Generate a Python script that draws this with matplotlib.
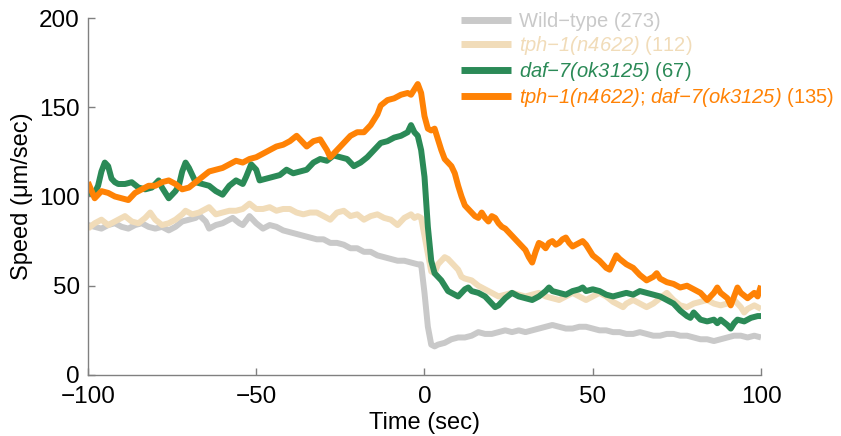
import matplotlib
matplotlib.use("Agg")
import matplotlib.pyplot as plt

plt.rcParams['font.family'] = ['Liberation Sans', 'DejaVu Sans']
plt.rcParams['mathtext.fontset'] = 'custom'
plt.rcParams['mathtext.rm'] = 'Liberation Sans:italic'
plt.rcParams['mathtext.it'] = 'Liberation Sans:italic'

# ---------------- data ----------------
t_wt = [-100, -98, -96, -94, -92, -90, -88, -86, -84, -82, -80, -78, -76, -74, -72, -70, -68, -67, -65, -64,
        -62, -60, -58, -57, -55, -54, -52, -50, -48, -46, -44, -42, -40, -38, -36, -34, -32, -30, -28, -26,
        -24, -22, -20, -18, -16, -14, -12, -10, -8, -6, -4, -2, -1, 0, 1, 2, 3, 4, 6, 8,
        10, 12, 14, 16, 18, 20, 22, 24, 26, 28, 30, 32, 34, 36, 38, 40, 42, 44, 46, 48,
        50, 52, 54, 56, 58, 60, 62, 64, 66, 68, 70, 72, 74, 76, 78, 80, 82, 84, 86, 88,
        90, 92, 94, 96, 98, 100]
v_wt = [84, 83, 82, 84, 85, 83, 82, 84, 85, 83, 82, 83, 81, 83, 86, 87, 88, 89.6, 86, 82,
        84, 85, 87, 88, 85, 84, 89, 85, 82, 84, 83, 81, 80, 79, 78, 77, 76, 76, 74, 74,
        73, 71, 71, 69, 69, 67, 66, 65, 64, 64, 63, 62, 62, 46, 27, 17, 16, 17, 18, 20,
        21, 21, 22, 24, 23, 23, 24, 25, 24, 25, 24, 25, 26, 27, 28, 27, 26, 26, 27, 27,
        26, 25, 25, 24, 24, 23, 23, 24, 23, 22, 22, 23, 23, 22, 22, 21, 20, 20, 19, 20,
        21, 22, 22, 21, 22, 21]

t_tph = [-100, -98, -96, -94, -92, -90, -89, -87, -85, -83, -81.5, -80, -78, -76, -74, -72, -71, -69, -67, -65,
         -64, -62, -60, -58, -56, -54, -52, -50, -48, -46, -44, -42, -40, -38, -36, -34, -32, -30, -28, -26,
         -24, -22, -20, -18, -16, -14, -12, -10, -8, -6, -4, -3, -2, -1, 0, 1, 2, 3, 4, 5,
         6, 7, 8, 10, 11, 12, 14, 16, 18, 20, 22, 24, 26, 28, 30, 32, 34, 36, 38, 40,
         42, 44, 46, 48, 50, 52, 54, 56, 58, 59, 60, 62, 64, 66, 68, 70, 72, 74, 76, 78,
         80, 82, 84, 86, 88, 90, 92, 94, 95, 96, 98, 100]
v_tph = [82, 85, 87, 84, 86, 88, 89, 86, 85, 88, 91, 87, 84, 85, 87, 90, 92, 90, 91, 93,
         94, 90, 91, 92, 92, 93, 96, 93, 93, 94, 92, 93, 93, 91, 90, 91, 91, 89, 87, 91,
         92, 89, 90, 87, 89, 90, 88, 87, 84, 88, 90, 88, 89, 88, 78, 68, 58, 57, 62, 64,
         66, 65, 63, 59, 55, 54, 53, 50, 48, 46, 44, 45, 46, 45, 44, 45, 46, 44, 43, 42,
         44, 46, 44, 42, 44, 46, 44, 41, 39, 38, 40, 42, 40, 38, 40, 43, 46, 42, 39, 38,
         40, 41, 42, 40, 39, 40, 42, 38, 35, 37, 39, 37]

t_daf = [-100, -98, -97, -96, -95, -94, -93, -92, -91, -89, -87, -85, -83, -81, -79, -78, -76, -74, -73, -72,
         -71, -70, -68, -66, -64, -62, -60, -58, -56, -54, -53, -51.5, -50, -49, -47, -45, -43, -41, -39, -37,
         -35, -33, -31, -29, -27, -25, -23, -21, -19, -17, -15, -13, -11, -9, -7, -5, -4, -3, -2, -1,
         0, 1, 2, 3, 4, 5, 6, 7, 8, 9, 10, 11, 12, 13, 14, 16, 18, 20, 21, 22,
         24, 26, 28, 30, 32, 34, 36, 37, 38, 40, 42, 44, 46, 47, 48, 50, 52, 54, 56, 58,
         60, 62, 64, 66, 68, 70, 72, 74, 76, 78, 79, 80, 82, 84, 86, 87, 88, 90, 91, 92,
         93, 95, 97, 99, 100]
v_daf = [102, 102, 106, 114, 119, 117, 110, 108, 107, 107, 108, 105, 104, 105, 109, 105, 99, 103, 106, 114,
         119, 116, 108, 107, 106, 103, 101, 106, 109, 107, 111, 118, 115, 109, 110, 111, 112, 115, 113, 114,
         115, 119, 121, 120, 123, 122, 121, 117, 119, 122, 126, 130, 131, 133, 134, 136, 140, 136, 134, 126,
         111, 83, 64, 57, 55, 53, 50, 47, 46, 45, 44, 46, 48, 49, 47, 46, 44, 40, 38, 39,
         43, 46, 44, 43, 42, 44, 47, 49, 47, 46, 45, 47, 48, 49, 47, 48, 47, 45, 44, 45,
         46, 45, 47, 46, 45, 44, 42, 40, 36, 33, 32, 35, 31, 30, 31, 29, 31, 28, 26, 29,
         31, 30, 32, 33, 33]

t_dbl = [-100, -98, -96, -94, -92, -90, -88, -86, -84, -82, -80, -78, -76, -74, -72, -70, -68, -66, -64, -62,
         -60, -58, -56, -54, -52, -50, -48, -46, -44, -42, -40, -38, -36, -35, -33, -31, -29, -28, -26, -24,
         -22, -20, -18, -16, -14, -13, -11, -9, -7, -5, -4, -3, -2, -1, 0, 1, 2, 3, 4, 5,
         6, 7, 8, 9, 10, 11, 12, 13, 14, 15, 16, 17, 18, 19, 20, 21, 22, 23, 24, 25,
         26, 27, 28, 29, 30, 31, 32, 33, 34, 35, 36, 37, 38, 39, 40, 41, 42, 43, 44, 45,
         46, 47, 48, 49, 50, 52, 54, 55, 56, 57, 58, 60, 62, 64, 66, 68, 69, 70, 72, 74,
         76, 78, 80, 82, 84, 86, 87, 88, 90, 91, 92, 93, 94, 96, 98, 99, 100]
v_dbl = [108, 99, 103, 102, 100, 99, 98, 102, 104, 106, 106, 108, 109, 107, 104, 105, 108, 111, 114, 115,
         116, 118, 120, 119, 121, 122, 124, 126, 128, 129, 131, 134, 130, 128, 131, 132, 126, 122, 126, 130,
         134, 136, 136, 140, 146, 151, 154, 155, 157, 158, 157, 160, 163, 158, 145, 138, 137, 138, 132, 126,
         121, 119, 117, 113, 106, 100, 95, 93, 91, 89, 88, 91, 88, 86, 89, 88, 85, 83, 82, 80,
         78, 76, 74, 72, 70, 66, 63, 69, 74, 73, 71, 74, 75, 73, 74, 76, 77, 74, 72, 73,
         74, 75, 73, 70, 67, 64, 60, 59, 63, 67, 65, 62, 60, 56, 53, 55, 57, 54, 52, 51,
         49, 50, 48, 46, 42, 46, 49, 46, 43, 39, 44, 49, 46, 43, 46, 44, 50]

labels = ["Wild\u2212type (273)",
          r"$\mathit{tph{-}1(n4622)}$ (112)",
          r"$\mathit{daf{-}7(ok3125)}$ (67)",
          r"$\mathit{tph{-}1(n4622)}$; $\mathit{daf{-}7(ok3125)}$ (135)"]
colors = ["#c9c9c9", "#f1dcb9", "#2b8a57", "#ff8205"]

# ---------------- plot ----------------
fig = plt.figure(figsize=(8.41, 4.36), dpi=100)
ax = fig.add_axes([0.1046, 0.140, 0.8003, 0.8187])

series = [(t_wt, v_wt), (t_tph, v_tph), (t_daf, v_daf), (t_dbl, v_dbl)]
for (t, v), c, lab in zip(series, colors, labels):
    ax.plot(t, v, color=c, lw=4.3, label=lab, solid_joinstyle='round', solid_capstyle='butt')

ax.set_xlim(-100, 100)
ax.set_ylim(0, 200)
ax.set_xticks([-100, -50, 0, 50, 100])
ax.set_yticks([0, 50, 100, 150, 200])
for s in ['top', 'right']:
    ax.spines[s].set_visible(False)
for s in ['left', 'bottom']:
    ax.spines[s].set_color('#808080')
    ax.spines[s].set_linewidth(1.0)
ax.tick_params(direction='in', length=5, width=1.0, color='#808080', labelsize=17.5, pad=6)
ax.tick_params(axis='x', pad=8)
ax.set_xlabel("Time (sec)", fontsize=17, labelpad=2.5)
ax.set_ylabel("Speed (\u03bcm/sec)", fontsize=17, labelpad=4)

leg = ax.legend(loc='upper left', bbox_to_anchor=(0.542, 1.04), frameon=False,
                fontsize=14.5, handlelength=2.5, handletextpad=0.4, labelspacing=0.16,
                borderaxespad=0)
for txt, c in zip(leg.get_texts(), colors):
    txt.set_color(c)
for line in leg.get_lines():
    line.set_linewidth(5)

fig.savefig("out.png", dpi=100)
